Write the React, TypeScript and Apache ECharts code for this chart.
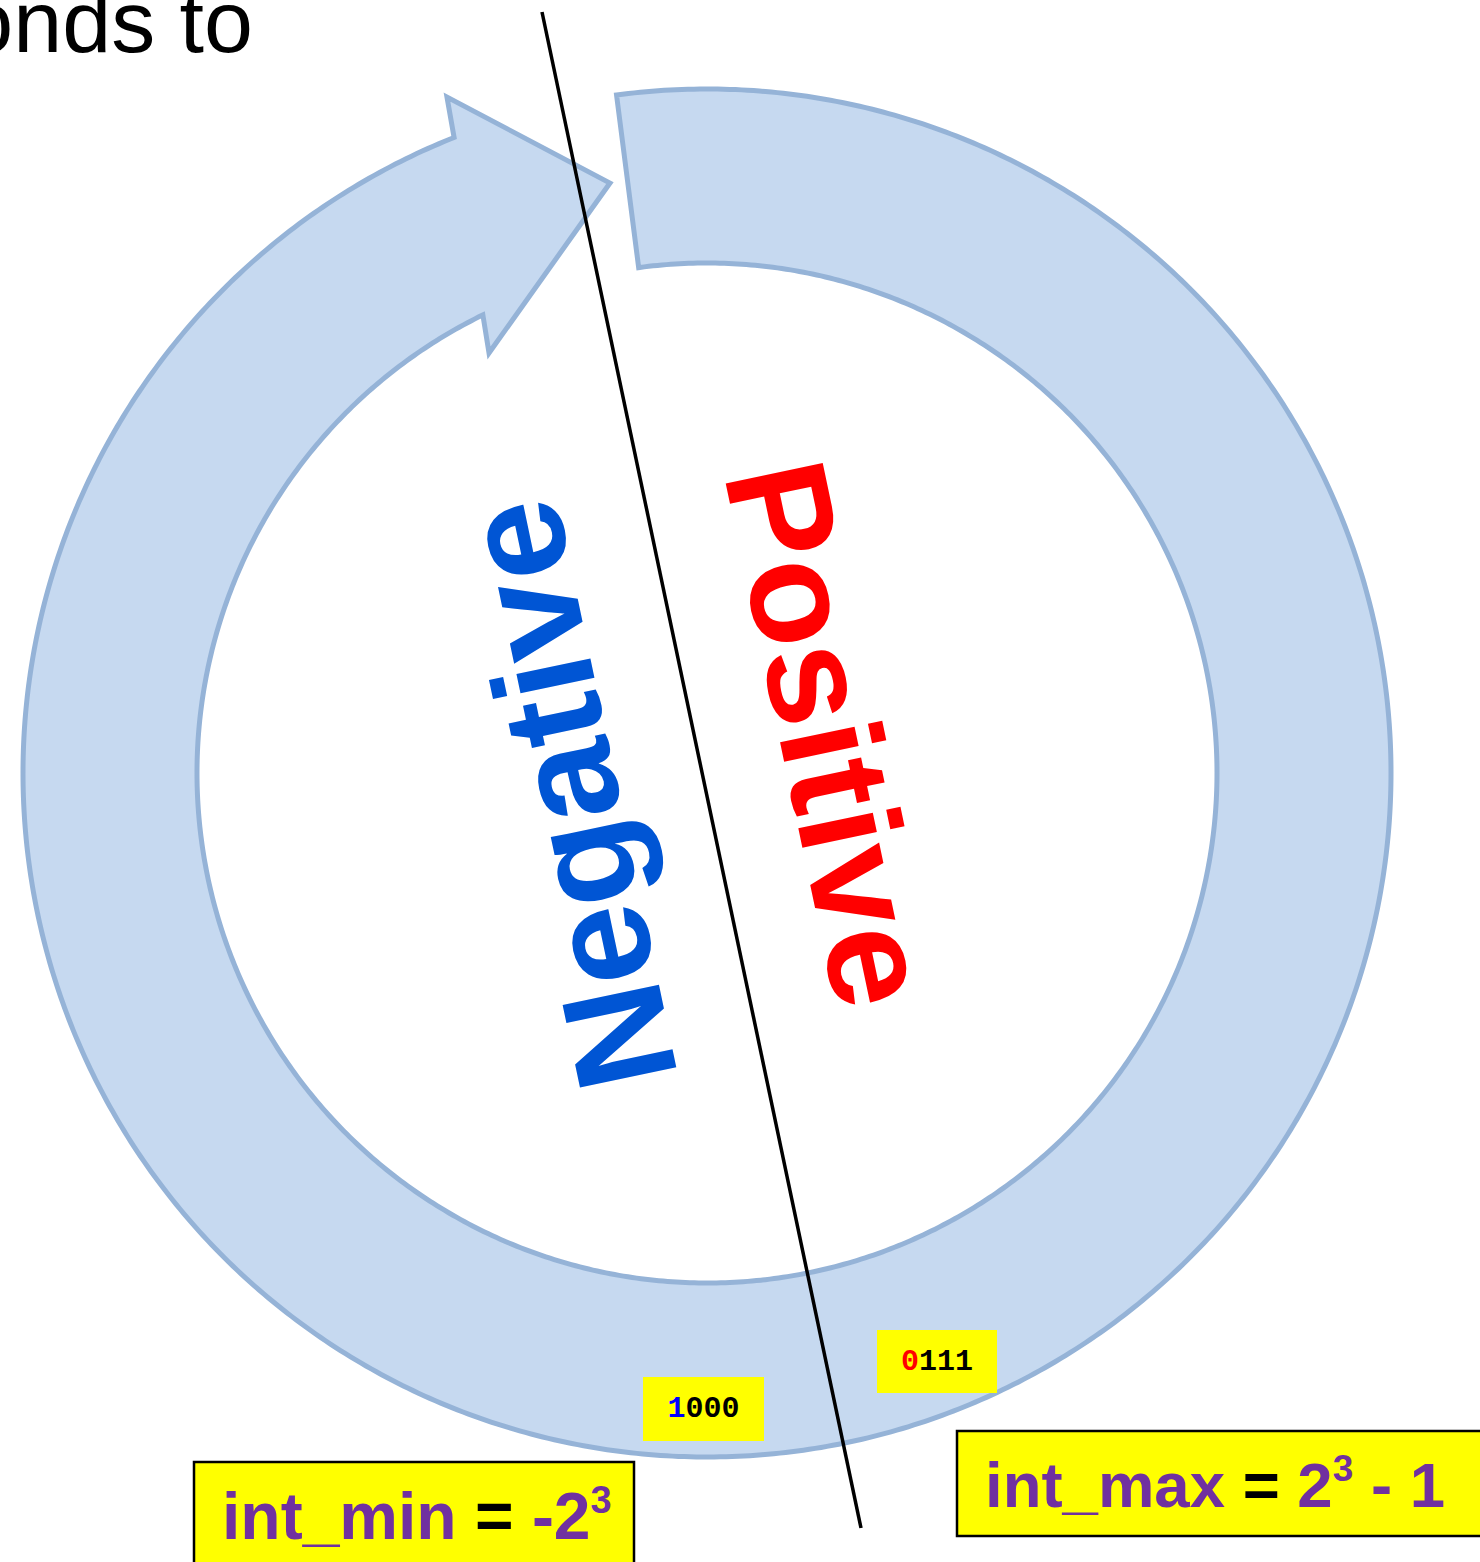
import React, { useEffect, useRef } from "react";
import * as echarts from "echarts";

// ---- texts / values ----
const HEADER_TEXT = "onds to";
const REGION_LABELS = ["Negative", "Positive"];
const REGION_COLORS = ["#0055D4", "#FF0000"];
const CODE_SIGN_BITS = ["1", "0"];
const CODE_REST_BITS = ["000", "111"];
const CODE_SIGN_COLORS = ["#0000FF", "#FF0000"];
const BOUND_NAMES = ["int_min", "int_max"];
const BOUND_BASE = ["-2", "2"];
const BOUND_EXP = ["3", "3"];
const BOUND_TAIL = ["", " - 1"];

// ---- geometry ----
const W = 1480;
const H = 1562;
const CX = 707;
const CY = 773;
const R_OUT = 684;
const R_IN = 510;
const RING_FILL = "#C6D9F0";
const RING_STROKE = "#95B3D7";
const LINE_P1 = [542, 12];
const LINE_P2 = [861, 1528];

function pt(r: number, deg: number): number[] {
  const a = (deg * Math.PI) / 180;
  return [CX + r * Math.cos(a), CY - r * Math.sin(a)];
}

function ringPoints(): number[][] {
  const pts: number[][] = [];
  const startOut = 97.6;
  const endOut = 111.7 - 360;
  for (let a = startOut; a > endOut; a -= 0.5) pts.push(pt(R_OUT, a));
  pts.push(pt(R_OUT, endOut));
  pts.push(pt(724.3, 111.04));
  pts.push(pt(597.9, 99.34));
  pts.push(pt(473.2, 117.43));
  const startIn = 116.07 - 360;
  const endIn = 97.7;
  for (let a = startIn; a < endIn; a += 0.5) pts.push(pt(R_IN, a));
  pts.push(pt(R_IN, endIn));
  return pts;
}

const SANS = "'Liberation Sans', Arial, sans-serif";
const MONO = "'Liberation Mono', 'Courier New', monospace";

export default function App() {
  const ref = useRef<HTMLDivElement>(null);
  useEffect(() => {
    document.body.style.margin = "0";
    if (!ref.current) return;
    const chart = echarts.init(ref.current, null, { renderer: "svg" });

    const theta = Math.atan2(LINE_P2[1] - LINE_P1[1], LINE_P2[0] - LINE_P1[0]); // ~78deg

    const codeBoxes = [
      { x: 643, y: 1377, w: 121, h: 64 },
      { x: 877, y: 1330, w: 120, h: 63 },
    ];
    const boundBoxes = [
      { x: 194, y: 1462, w: 440, h: 120, tx: 222, ty: 1516, fs: 66, sfs: 38, slh: 51 },
      { x: 957, y: 1431, w: 540, h: 105, tx: 985, ty: 1485, fs: 63.5, sfs: 37, slh: 49 },
    ];

    const elements: any[] = [];

    elements.push({
      type: "polygon",
      z: 1,
      shape: { points: ringPoints() },
      style: { fill: RING_FILL, stroke: RING_STROKE, lineWidth: 5, lineJoin: "miter" },
    });

    elements.push({
      type: "text",
      z: 2,
      x: 253,
      y: 21.5,
      style: {
        text: HEADER_TEXT,
        fontSize: 88,
        fontFamily: SANS,
        fill: "#000000",
        align: "right",
        verticalAlign: "middle",
        textAlign: "right",
        textVerticalAlign: "middle",
      },
    });

    // Negative / Positive
    const regionPos = [
      { x: 568, y: 795, rot: Math.PI - theta, fs: 143 },
      { x: 829, y: 734, rot: -theta, fs: 144 },
    ];
    REGION_LABELS.forEach((t, i) => {
      elements.push({
        type: "text",
        z: 2,
        x: regionPos[i].x,
        y: regionPos[i].y,
        rotation: regionPos[i].rot,
        style: {
          text: t,
          fontSize: regionPos[i].fs,
          fontWeight: "bold",
          fontFamily: SANS,
          fill: REGION_COLORS[i],
          align: "center",
          verticalAlign: "middle",
          textAlign: "center",
          textVerticalAlign: "middle",
        },
      });
    });

    // code boxes
    CODE_SIGN_BITS.forEach((b, i) => {
      const bx = codeBoxes[i];
      elements.push({
        type: "rect",
        z: 3,
        shape: { x: bx.x, y: bx.y, width: bx.w, height: bx.h },
        style: { fill: "#FFFF00" },
      });
      elements.push({
        type: "text",
        z: 4,
        x: bx.x + bx.w / 2,
        y: bx.y + bx.h / 2,
        style: {
          text: `{a|${b}}{b|${CODE_REST_BITS[i]}}`,
          fontSize: 30,
          fontFamily: MONO,
          fontWeight: "bold",
          align: "center",
          verticalAlign: "middle",
          textAlign: "center",
          textVerticalAlign: "middle",
          rich: {
            a: { fontSize: 30, fontFamily: MONO, fontWeight: "bold", fill: CODE_SIGN_COLORS[i], color: CODE_SIGN_COLORS[i] },
            b: { fontSize: 30, fontFamily: MONO, fontWeight: "bold", fill: "#000000", color: "#000000" },
          },
        },
      });
    });

    // bound boxes
    BOUND_NAMES.forEach((n, i) => {
      const bx = boundBoxes[i];
      elements.push({
        type: "rect",
        z: 3,
        shape: { x: bx.x, y: bx.y, width: bx.w, height: bx.h },
        style: { fill: "#FFFF00", stroke: "#000000", lineWidth: 2.5 },
      });
      let txt = `{p|${n} }{k|=}{p| ${BOUND_BASE[i]}}{s|${BOUND_EXP[i]}}`;
      if (BOUND_TAIL[i]) txt += `{p|${BOUND_TAIL[i]}}`;
      const purple = "#7030A0";
      elements.push({
        type: "text",
        z: 4,
        x: bx.tx,
        y: bx.ty,
        style: {
          text: txt,
          fontSize: bx.fs,
          fontWeight: "bold",
          fontFamily: SANS,
          align: "left",
          verticalAlign: "middle",
          textAlign: "left",
          textVerticalAlign: "middle",
          rich: {
            p: { fontSize: bx.fs, fontWeight: "bold", fontFamily: SANS, fill: purple, color: purple, lineHeight: 70 },
            k: { fontSize: bx.fs, fontWeight: "bold", fontFamily: SANS, fill: "#000000", color: "#000000", lineHeight: 70 },
            s: {
              fontSize: bx.sfs,
              fontWeight: "bold",
              fontFamily: SANS,
              fill: purple,
              color: purple,
              lineHeight: bx.slh,
              verticalAlign: "top",
            },
          },
        },
      });
    });

    // dividing line
    elements.push({
      type: "line",
      z: 5,
      shape: { x1: LINE_P1[0], y1: LINE_P1[1], x2: LINE_P2[0], y2: LINE_P2[1] },
      style: { stroke: "#000000", lineWidth: 3.5 },
    });

    chart.setOption({
      animation: false,
      backgroundColor: "#FFFFFF",
      graphic: { elements },
    });

    return () => chart.dispose();
  }, []);

  return <div ref={ref} style={{ width: W, height: H }} />;
}
